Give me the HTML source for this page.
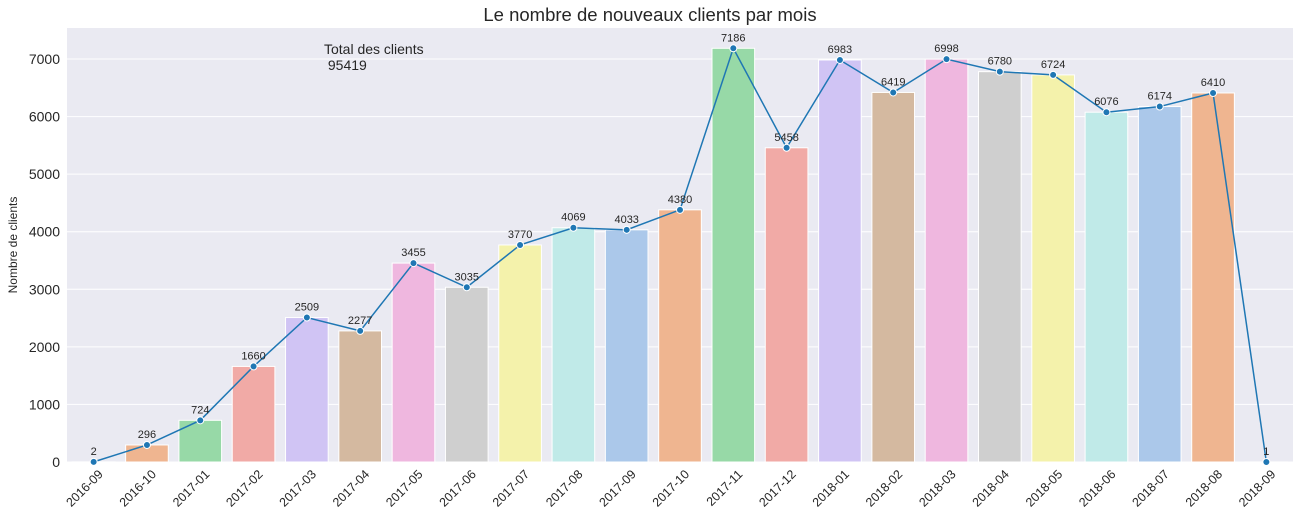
<!DOCTYPE html>
<html><head><meta charset="utf-8"><style>
body{margin:0;background:#fff;font-family:"Liberation Sans","DejaVu Sans",sans-serif;}
svg{display:block}
</style></head><body>
<svg id="chart" width="1301" height="523" xmlns="http://www.w3.org/2000/svg">
<rect x="67" y="28" width="1226" height="434" fill="#eaeaf2"/>
<g id="grid"></g><g id="bars"></g><g id="line"></g><g id="labels"></g><g id="xticks"></g><g id="yticks"></g>
<text x="650" y="21" text-anchor="middle" font-size="18.5" fill="#262626">Le nombre de nouveaux clients par mois</text>
<text transform="translate(17,245) rotate(-90)" text-anchor="middle" font-size="12" fill="#262626">Nombre de clients</text>
<text x="324" y="54" font-size="14" fill="#262626"><tspan x="324">Total des clients</tspan><tspan x="324" dy="16"> 95419</tspan></text>
</svg>
<script>
const categories=["2016-09","2016-10","2017-01","2017-02","2017-03","2017-04","2017-05","2017-06","2017-07","2017-08","2017-09","2017-10","2017-11","2017-12","2018-01","2018-02","2018-03","2018-04","2018-05","2018-06","2018-07","2018-08","2018-09"];
const values=[2,296,724,1660,2509,2277,3455,3035,3770,4069,4033,4380,7186,5458,6983,6419,6998,6780,6724,6076,6174,6410,1];
const yTicks=[0,1000,2000,3000,4000,5000,6000,7000];
const palette=["#abc8ea","#efb590","#97d9a7","#f1aaa6","#d0c4f4","#d4b9a0","#efb7df","#cfcfcf","#f4f2ab","#c0eae8"];
const NS="http://www.w3.org/2000/svg";
const X0=67,X1=1293,Y0=462,Y7=59;
const step=(X1-X0)/categories.length;
const xS=i=>X0+step*(i+0.5);
const yS=v=>Y0-(Y0-Y7)*v/7000;
function mk(t,a,p){const e=document.createElementNS(NS,t);for(const k in a)e.setAttribute(k,a[k]);document.getElementById(p).appendChild(e);return e;}
yTicks.forEach(v=>{
 const g=mk("line",{x1:X0,x2:X1,y1:yS(v),y2:yS(v),stroke:"#fff","stroke-width":1},"grid");
 
 
 const t=mk("text",{x:60,y:yS(v)+5,"text-anchor":"end","font-size":14,fill:"#262626"},"yticks");
 t.textContent=v;
 
 
});
const bw=step*0.8;
let pts=[];
values.forEach((v,i)=>{
 const b=mk("rect",{x:xS(i)-bw/2,y:yS(v),width:bw,height:Y0-yS(v),fill:palette[i%10],stroke:"#fff","stroke-width":1},"bars");
 
 
 pts.push(xS(i)+","+yS(v));
 const l=mk("text",{x:xS(i),y:yS(v)-7,"text-anchor":"middle","font-size":11,fill:"#262626"},"labels");
 l.textContent=v;
 
 
 const t=mk("text",{transform:`translate(${xS(i)+10},${Y0+13}) rotate(-45)`,"text-anchor":"end","font-size":12.5,fill:"#262626"},"xticks");
 t.textContent=categories[i];
 
 
});
const pl=mk("polyline",{points:pts.join(" "),fill:"none",stroke:"#1f77b4","stroke-width":1.5},"line");


values.forEach((v,i)=>{
 const c=mk("circle",{cx:xS(i),cy:yS(v),r:3.5,fill:"#1f77b4",stroke:"#fff","stroke-width":1},"line");
 
 
});
</script>
</body></html>
